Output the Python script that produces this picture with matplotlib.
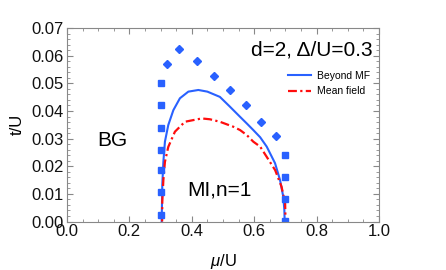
import matplotlib
matplotlib.use("Agg")
import matplotlib.pyplot as plt
from matplotlib.ticker import MultipleLocator, FormatStrFormatter

plt.rcParams['font.family'] = ['Liberation Sans', 'DejaVu Sans']
plt.rcParams['mathtext.fontset'] = 'custom'
plt.rcParams['mathtext.it'] = 'Liberation Sans:italic'
plt.rcParams['mathtext.rm'] = 'Liberation Sans'

# Beyond MF (solid blue)
mu_bmf = [0.3035, 0.3045, 0.3055, 0.309, 0.314, 0.3247, 0.341, 0.362, 0.389, 0.421, 0.450,
          0.490, 0.520, 0.5545, 0.576, 0.597, 0.619, 0.640, 0.6667, 0.6827, 0.693, 0.6965, 0.6975]
t_bmf = [0.0, 0.006, 0.0132, 0.0216, 0.0289, 0.0349, 0.0403, 0.0446, 0.0470, 0.0476, 0.0470,
         0.0451, 0.0418, 0.0379, 0.0355, 0.0331, 0.0305, 0.0271, 0.0211, 0.0150, 0.0090, 0.0042, 0.0]

# Mean field (red dash-dot)
mu_mf = [0.305, 0.3055, 0.309, 0.314, 0.3247, 0.346, 0.378, 0.4317, 0.458, 0.490, 0.533,
         0.5545, 0.576, 0.597, 0.619, 0.640, 0.667, 0.6875, 0.699, 0.7003]
t_mf = [0.0, 0.0072, 0.0150, 0.0216, 0.0270, 0.0325, 0.0361, 0.0373, 0.0370, 0.0361, 0.0343,
        0.0331, 0.0313, 0.0289, 0.0271, 0.0234, 0.0186, 0.0126, 0.0066, 0.0]

# Numerical points: squares
mu_sq_left = [0.30, 0.30, 0.30, 0.30, 0.30, 0.30, 0.30]
t_sq_left = [0.0025, 0.0105, 0.0185, 0.026, 0.034, 0.042, 0.050]
mu_sq_right = [0.70, 0.70, 0.70, 0.70]
t_sq_right = [0.0003, 0.0083, 0.0161, 0.024]

# Numerical points: diamonds
mu_dia = [0.322, 0.358, 0.418, 0.470, 0.522, 0.574, 0.622, 0.670]
t_dia = [0.0571, 0.0624, 0.0582, 0.0527, 0.0476, 0.0420, 0.0360, 0.0309]

blue = (0.16, 0.38, 1.0)
red = (1.0, 0.05, 0.05)

fig = plt.figure(figsize=(4.46, 2.70), dpi=100)
ax = fig.add_axes([0.150, 0.1796, 0.700, 0.7164])

ax.plot(mu_bmf, t_bmf, color=blue, lw=1.5, label="Beyond MF")
ax.plot(mu_mf, t_mf, color=red, lw=1.6, ls=(0, (4, 1.5, 1, 1.5)), label="Mean field")
ax.plot(mu_sq_left, t_sq_left, ls="none", marker="s", ms=4, color=blue)
ax.plot(mu_sq_right, t_sq_right, ls="none", marker="s", ms=4, color=blue)
ax.plot(mu_dia, t_dia, ls="none", marker="D", ms=4.3, color=blue)

ax.set_xlim(0, 1.0)
ax.set_ylim(0, 0.07)
ax.xaxis.set_major_locator(MultipleLocator(0.2))
ax.xaxis.set_minor_locator(MultipleLocator(0.05))
ax.yaxis.set_major_locator(MultipleLocator(0.01))
ax.yaxis.set_minor_locator(MultipleLocator(0.002))
ax.xaxis.set_major_formatter(FormatStrFormatter("%.1f"))
ax.yaxis.set_major_formatter(FormatStrFormatter("%.2f"))
ax.tick_params(which="both", direction="in", top=True, right=True, color="#888888",
               labelsize=12, labelcolor="#111111", pad=2)
ax.tick_params(which="major", length=4, width=0.8)
ax.tick_params(which="minor", length=2.2, width=0.6)
for s in ax.spines.values():
    s.set_color("#888888")
    s.set_linewidth(0.8)

ax.set_xlabel(r"$\mu$/U", fontsize=12, labelpad=9)
ax.set_ylabel("t/U", fontsize=12, labelpad=5)

ax.text(0.98, 0.935, "d=2, Δ/U=0.3", transform=ax.transAxes, ha="right", va="top", fontsize=15)
ax.text(0.096, 0.42, "BG", transform=ax.transAxes, ha="left", va="center", fontsize=15)
ax.text(0.385, 0.163, "MI,n=1", transform=ax.transAxes, ha="left", va="center", fontsize=15)

ax.legend(loc="upper right", bbox_to_anchor=(0.99, 0.81), frameon=False, fontsize=7.5,
          handlelength=2.2, handletextpad=0.5, labelspacing=0.5, borderaxespad=0.2)

fig.savefig("out.png", dpi=100)
